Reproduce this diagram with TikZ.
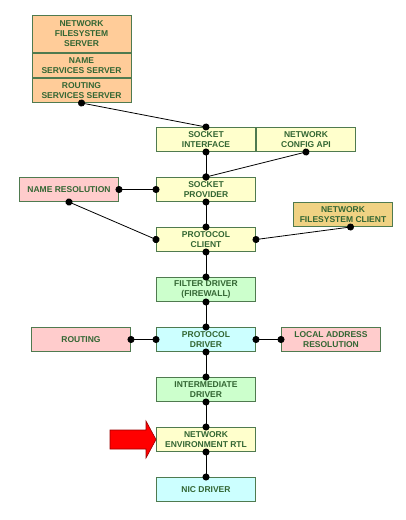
\documentclass[tikz,border=0pt]{standalone}
\usepackage{fontspec}
\setmainfont{Liberation Sans}
\usetikzlibrary{arrows.meta,positioning}

\definecolor{boxline}{HTML}{4F7A4F}
\definecolor{boxtext}{HTML}{336633}
\definecolor{peach}{HTML}{FFCC99}
\definecolor{paleyellow}{HTML}{FFFFCC}
\definecolor{palepink}{HTML}{FFCCCC}
\definecolor{palegreen}{HTML}{CCFFCC}
\definecolor{palecyan}{HTML}{CCFFFF}
\definecolor{gold}{HTML}{F0D283}

\begin{document}
\begin{tikzpicture}[x=1pt,y=1pt,node distance=25pt,
                    box/.style={draw=boxline,line width=0.8pt,text=boxtext,
                                font=\fontsize{8.5}{10}\selectfont\bfseries,
                                align=center,inner sep=1pt,
                                minimum width=99.2pt,minimum height=24.2pt},
                    link/.style={{Circle[length=7pt]}-{Circle[length=7pt]},
                                 shorten <=-3.5pt,shorten >=-3.5pt,line width=0.8pt}]
\useasboundingbox (0,0) rectangle (405,-520);

% servers
\node[box,fill=peach,minimum height=37.2pt] (nfss) at (81.5,-34) {NETWORK\\FILESYSTEM\\SERVER};
\node[box,fill=peach,below=0pt of nfss] (nss) {NAME\\SERVICES SERVER};
\node[box,fill=peach,below=0pt of nss] (rss) {ROUTING\\SERVICES SERVER};

% main stack
\node[box,fill=paleyellow,below right=24pt and 24.5pt of rss] (sockif) {SOCKET\\INTERFACE};
\node[box,fill=paleyellow,right=0pt of sockif] (cfgapi) {NETWORK\\CONFIG API};
\node[box,fill=paleyellow,below=of sockif] (sockprov) {SOCKET\\PROVIDER};
\node[box,fill=paleyellow,below=of sockprov] (protcl) {PROTOCOL\\CLIENT};
\node[box,fill=palegreen,below=of protcl] (filter) {FILTER DRIVER\\(FIREWALL)};
\node[box,fill=palecyan,below=of filter] (protdrv) {PROTOCOL\\DRIVER};
\node[box,fill=palegreen,below=of protdrv] (interm) {INTERMEDIATE\\DRIVER};
\node[box,fill=paleyellow,below=of interm] (rtl) {NETWORK\\ENVIRONMENT RTL};
\node[box,fill=palecyan,below=of rtl] (nic) {NIC DRIVER};

% side boxes
\node[box,fill=palepink,left=37pt of sockprov] (nameres) {NAME RESOLUTION};
\node[box,fill=gold,above right=0pt and 37pt of protcl] (nfsc) {NETWORK\\FILESYSTEM CLIENT};
\node[box,fill=palepink,left=of protdrv] (routing) {ROUTING};
\node[box,fill=palepink,right=of protdrv] (locaddr) {LOCAL ADDRESS\\RESOLUTION};

% connectors
\draw[link] (rss.south) -- (sockif.north);
\draw[link] (sockif.south) -- (sockprov.north);
\draw[link] (cfgapi.south) -- (sockprov.north);
\draw[link] (nameres.east) -- (sockprov.west);
\draw[link] (nameres.south) -- (protcl.west);
\draw[link] (sockprov.south) -- (protcl.north);
\draw[link] ([xshift=7.5pt]nfsc.south) -- (protcl.east);
\draw[link] (protcl.south) -- (filter.north);
\draw[link] (filter.south) -- (protdrv.north);
\draw[link] (routing.east) -- (protdrv.west);
\draw[link] (locaddr.west) -- (protdrv.east);
\draw[link] (protdrv.south) -- (interm.north);
\draw[link] (interm.south) -- (rtl.north);
\draw[link] (rtl.south) -- (nic.north);

% pointer
\draw[draw=red!60!black,fill=red,line width=0.6pt]
  (rtl.west) -- ++(-10,18.5) -- ++(0,-9) -- ++(-36,0) -- ++(0,-19) -- ++(36,0) -- ++(0,-9) -- cycle;
\end{tikzpicture}
\end{document}
